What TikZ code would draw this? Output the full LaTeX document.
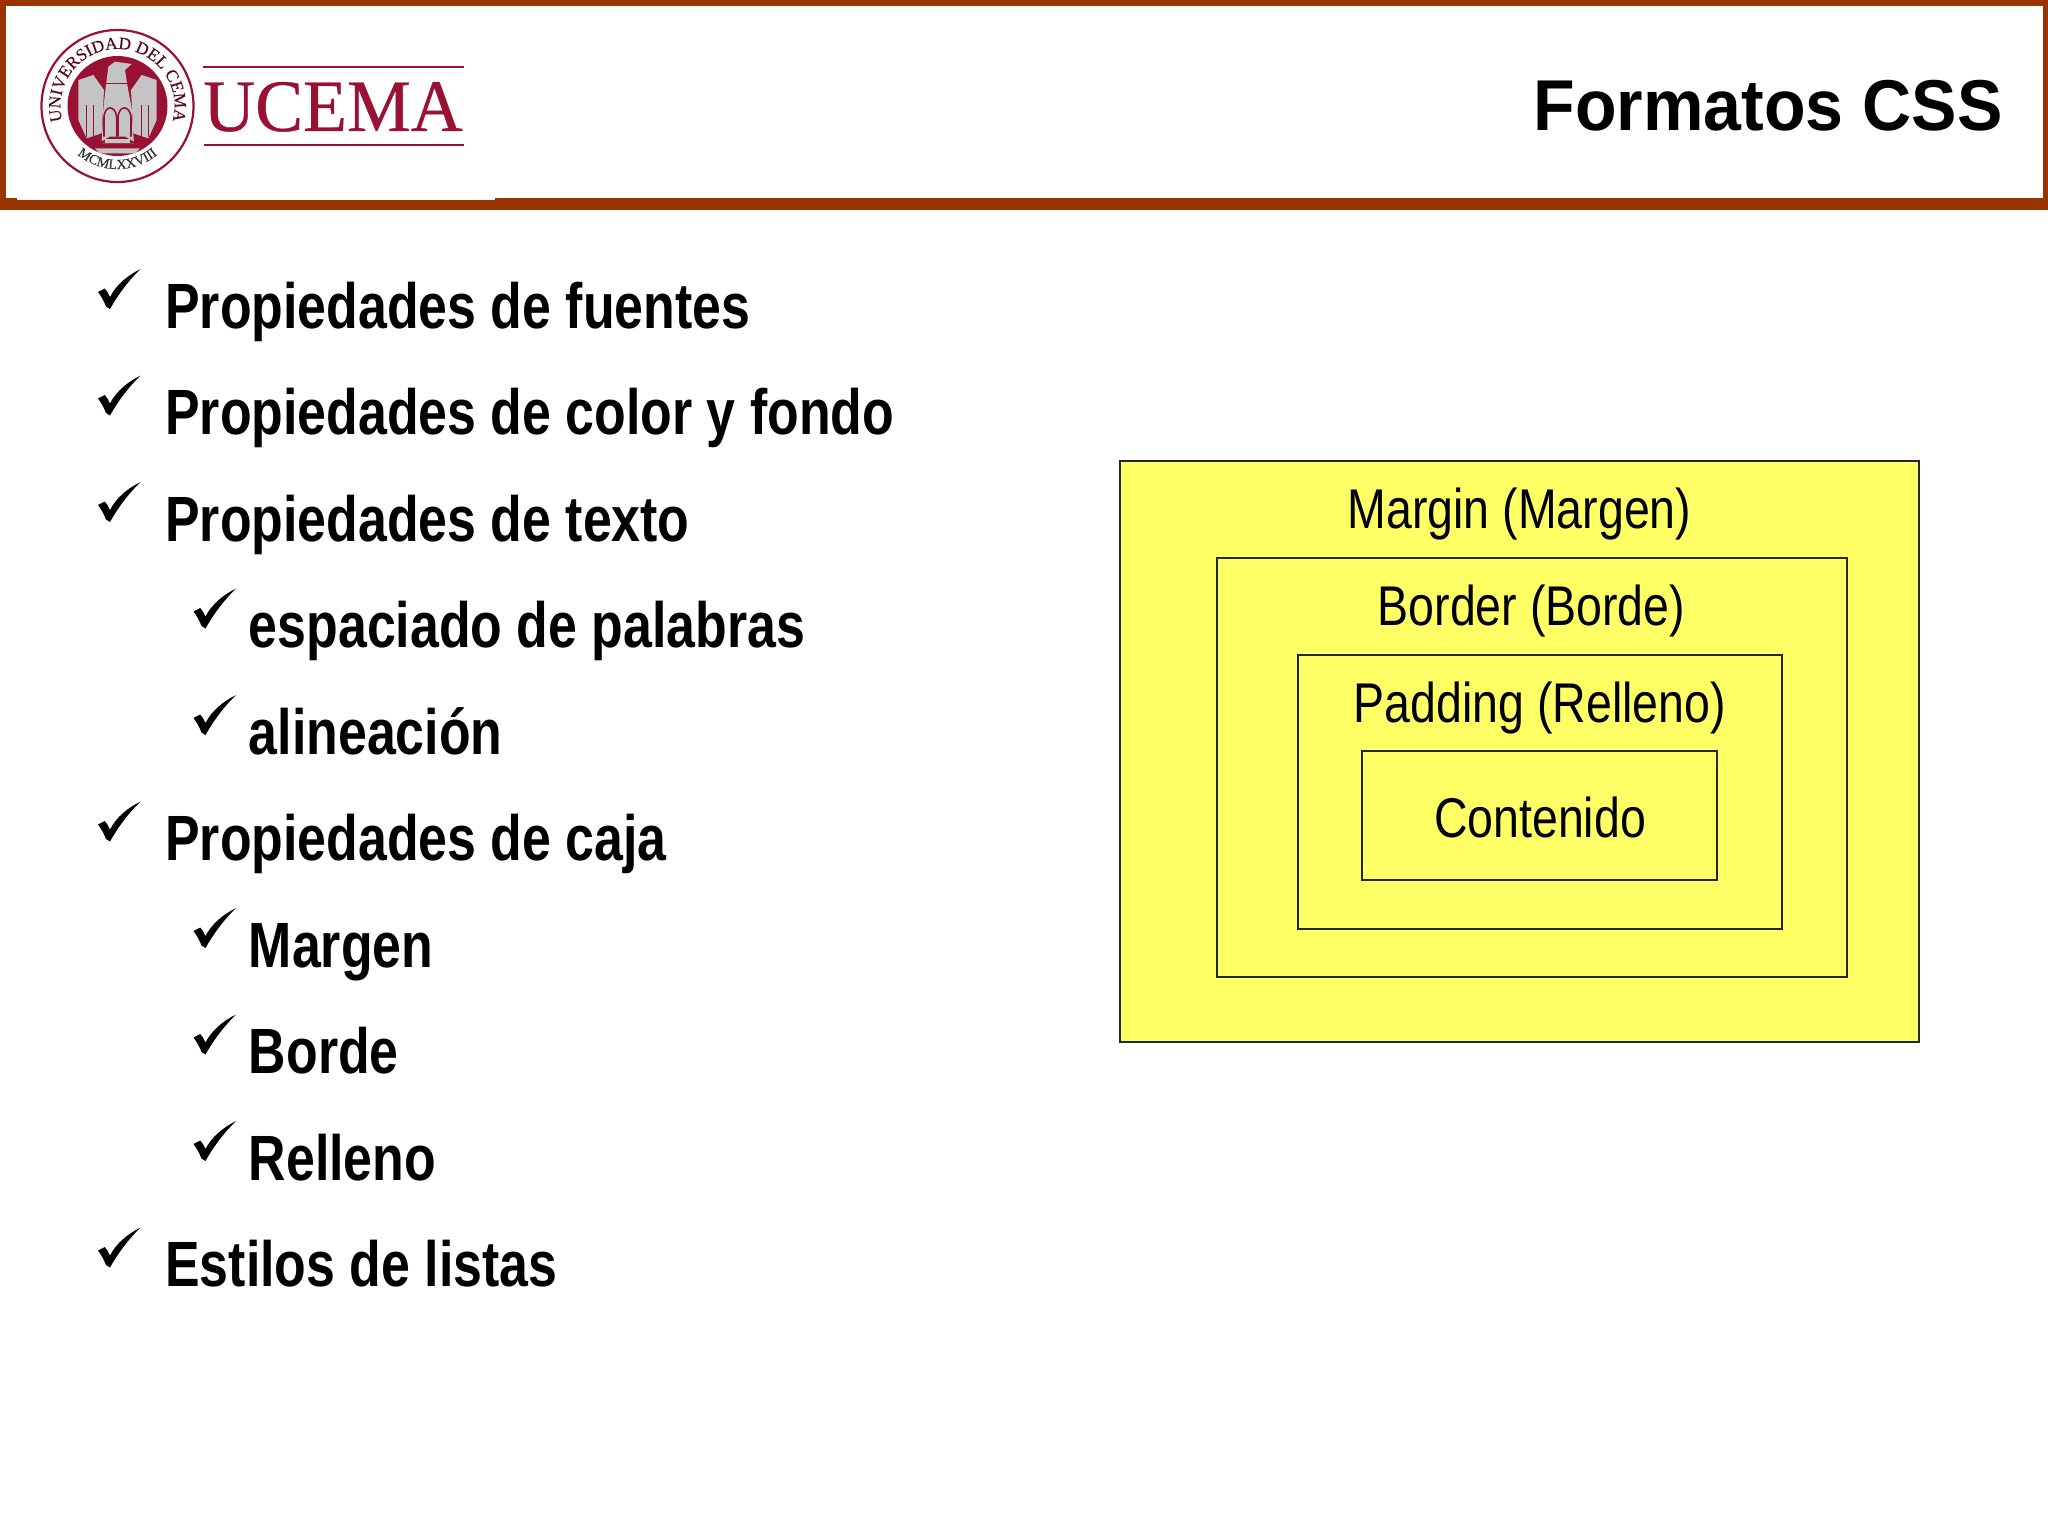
\documentclass[tikz,border=0pt]{standalone}
\usepackage{fontspec}
\usetikzlibrary{decorations.text}
\setmainfont[FakeStretch=.81]{Liberation Sans}
\newfontfamily\boxfont[FakeStretch=.83]{Liberation Sans}
\newfontfamily\titlefont[FakeStretch=.945]{Liberation Sans}
\newfontfamily\ucfont[FakeStretch=.97,FakeBold=.5]{Liberation Serif}
\newfontfamily\sealfont[FakeBold=.3]{Liberation Serif}
\definecolor{fr}{HTML}{993300}
\definecolor{uc}{HTML}{991133}
\definecolor{yl}{HTML}{FFFF66}
\definecolor{gy}{HTML}{C4C4C4}

\begin{document}
\begin{tikzpicture}[x=.5pt,y=-.5pt,
        it/.style={anchor=base west,inner sep=0pt,font=\bfseries\fontsize{32}{38}\selectfont},
        lb/.style={anchor=base,inner sep=0pt,font=\boxfont\fontsize{28}{34}\selectfont},
        bx/.style={draw=black!85,line width=.9pt},
        chk/.pic={\fill (0,23) -- (6.7,19.5) .. controls (8.5,21) and (10,24) .. (12,28)
            .. controls (18,16) and (30,6) .. (42.7,0) .. controls (32,10) and (21,24) .. (12,40)
            -- (8,37.5) .. controls (6,32) and (3,27) .. (0,23) -- cycle;}]
    \useasboundingbox (0,0) rectangle (2048,1536);
    \fill[white] (0,0) rectangle (2048,1536);

    \fill[fr] (0,0) rectangle (2048,6);
    \fill[fr] (0,0) rectangle (6,210);
    \fill[fr] (2043,0) rectangle (2048,210);
    \fill[fr] (0,198) rectangle (2048,210);
    \fill[white] (17,190) rectangle (495,200);

    \node[anchor=base east,inner sep=0pt,font=\titlefont\bfseries\fontsize{36}{42}\selectfont] (ttl) at (2003,131) {Formatos CSS};

    \begin{scope}[shift={(117.5,106)}]
        \draw[uc,line width=1.1pt] (0pt,0pt) circle (38pt);
        \fill[uc] (0pt,0pt) circle (25pt);
        \path[decorate,decoration={text along path,text align=center,text color=uc!55!black,
            text={|\sealfont\fontsize{8.6}{10}\selectfont|UNIVERSIDAD DEL CEMA}}]
            (200:28.5pt) arc[start angle=200,end angle=-20,radius=28.5pt];
        \path[decorate,decoration={text along path,text align=center,text color=black!80,
            text={|\sealfont\fontsize{7}{9}\selectfont|MCMLXXVIII}}]
            (232:31.5pt) arc[start angle=232,end angle=308,radius=31.5pt];
    \end{scope}

    \begin{scope}[shift={(30,20)},scale=1/3]
        \fill[gy] (145,180) -- (190,165) -- (222,210) -- (215,340) -- (170,355) -- (145,300) -- cycle;
        \fill[gy] (380,180) -- (335,165) -- (303,210) -- (310,340) -- (355,355) -- (380,300) -- cycle;
        \fill[gy] (228,195) -- (235,140) -- (255,125) -- (305,132) -- (285,150) -- (292,195)
            -- (305,265) -- (312,370) -- (215,370) -- (220,265) -- cycle;
        \fill[gy] (195,385) -- (330,385) -- (315,400) -- (210,400) -- cycle;
        \begin{scope}[uc,line width=.8pt]
            \draw (222,350) -- (222,290) .. controls (225,255) and (255,255) .. (260,290) -- (260,350);
            \draw (264,350) -- (264,290) .. controls (268,255) and (298,255) .. (303,290) -- (303,350);
            \draw (170,350) -- (170,255);
            \draw (190,350) -- (190,255);
            \draw (335,350) -- (335,255);
            \draw (355,350) -- (355,255);
            \draw (225,190) -- (295,190);
        \end{scope}
        \fill[uc] (205,370) -- (240,350) -- (285,350) -- (320,370) -- cycle;
        \fill[gy] (225,368) rectangle (300,358);
    \end{scope}

    \draw[uc,line width=1.2pt] (203,67) -- (464,67);
    \draw[uc,line width=1.2pt] (204,145) -- (464,145);
    \node[anchor=base west,inner sep=0pt,text=uc,font=\ucfont\fontsize{37}{44}\selectfont] (ucm) at (203,131) {UCEMA};

    \node[it] (i0) at (165,328) {Propiedades de fuentes};
    \node[it] (i1) at (165,434.5) {Propiedades de color y fondo};
    \node[it] (i2) at (165,541) {Propiedades de texto};
    \node[it] (i3) at (248.5,647.5) {espaciado de palabras};
    \node[it] (i4) at (248.5,754) {alineación};
    \node[it] (i5) at (165,860.5) {Propiedades de caja};
    \node[it] (i6) at (248.5,967) {Margen};
    \node[it] (i7) at (248.5,1073.5) {Borde};
    \node[it] (i8) at (248.5,1180) {Relleno};
    \node[it] (i9) at (165,1286.5) {Estilos de listas};

    \pic at ([shift={(-67,-59)}]i0.base west) {chk};
    \pic at ([shift={(-67,-59)}]i1.base west) {chk};
    \pic at ([shift={(-67,-59)}]i2.base west) {chk};
    \pic at ([shift={(-55,-59)}]i3.base west) {chk};
    \pic at ([shift={(-55,-59)}]i4.base west) {chk};
    \pic at ([shift={(-67,-59)}]i5.base west) {chk};
    \pic at ([shift={(-55,-59)}]i6.base west) {chk};
    \pic at ([shift={(-55,-59)}]i7.base west) {chk};
    \pic at ([shift={(-55,-59)}]i8.base west) {chk};
    \pic at ([shift={(-67,-59)}]i9.base west) {chk};

    \fill[yl] (1120,461) rectangle (1919,1042);
    \draw[bx] (1120,461) rectangle (1919,1042);
    \draw[bx] (1217,558) rectangle (1847,977);
    \draw[bx] (1298,655) rectangle (1782,929);
    \draw[bx] (1362,751) rectangle (1717,880);

    \node[lb] (mg) at (1519.5,528) {Margin (Margen)};
    \node[lb] (bd) at (1531.5,625) {Border (Borde)};
    \node[lb] (pd) at (1540,722) {Padding (Relleno)};
    \node[lb] (ct) at (1540,837.5) {Contenido};
\end{tikzpicture}
\end{document}
